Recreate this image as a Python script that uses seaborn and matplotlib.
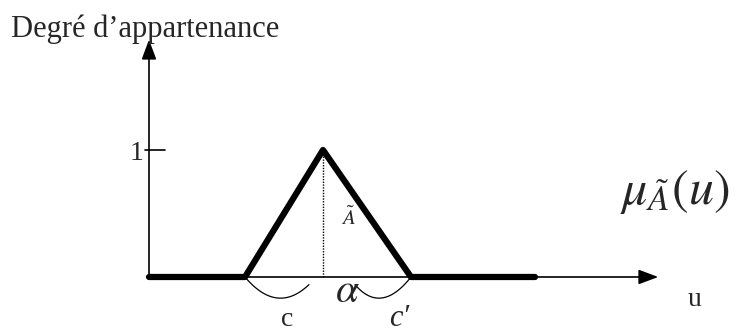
import numpy as np
import pandas as pd
import seaborn as sns
import matplotlib.pyplot as plt

# membership function (triangle) data
u_pts = [0, 2.4, 4.35, 6.55, 9.65]
mu_pts = [0, 0, 1, 0, 0]
peak_u = 4.35
u_axis_end = 12.8
mu_axis_end = 1.89

df = pd.DataFrame({"u": u_pts, "mu": mu_pts})

sns.set_style("white")
plt.rcParams['font.family'] = ['Liberation Serif', 'DejaVu Serif']
plt.rcParams['mathtext.fontset'] = 'stix'

fig = plt.figure(figsize=(7.36, 3.33), dpi=100)
ax = fig.add_axes([0, 0, 1, 1])
ax.set_xlim(-3.725, 14.675)
ax.set_ylim(-0.441, 2.181)
ax.axis("off")

# axes with arrows
ax.annotate("", xy=(u_axis_end, 0), xytext=(0, 0),
            arrowprops=dict(arrowstyle="-|>,head_length=1.2,head_width=0.45", color="black", lw=1.2))
ax.annotate("", xy=(0, mu_axis_end), xytext=(0, 0),
            arrowprops=dict(arrowstyle="-|>,head_length=1.2,head_width=0.45", color="black", lw=1.2))

# tick at 1
ax.plot([-0.1, 0.4], [1, 1], color="black", lw=1.2)
ax.text(-0.15, 0.976, "1", ha="right", va="center", fontsize=20)

# triangle membership
sns.lineplot(data=df, x="u", y="mu", color="black", lw=4.5, ax=ax, sort=False)

# dotted vertical at the peak
ax.plot([peak_u, peak_u], [0, 1], color="black", lw=1, ls=(0, (1, 1)))

# braces under the base
def brace(x0, x1, xm, depth, end):
    t = np.linspace(0, 1, 40)
    xs = (1 - t) ** 2 * x0 + 2 * (1 - t) * t * xm + t ** 2 * x1
    ys = -(2 * (1 - t) * t * depth + t ** 2 * end)
    ax.plot(xs, ys, color="black", lw=0.9)

brace(2.4, 4.0, 3.2, 0.3, 0.06)
brace(6.55, 5.15, 5.8, 0.3, 0.06)

ax.text(3.45, -0.335, "c", fontsize=20, ha="center", va="center")
ax.text(6.25, -0.325, "c\u2032", fontsize=22, style="italic", ha="center", va="center")
ax.text(4.95, -0.12, r"$\alpha$", fontsize=30, ha="center", va="center")
ax.text(4.98, 0.46, r"$\tilde{A}$", fontsize=15, ha="center", va="center")
ax.text(13.15, 0.67, r"$\mu_{\tilde{A}}(u)$", fontsize=36, ha="center", va="center")
ax.text(13.65, -0.18, "u", fontsize=20, ha="center", va="center")
ax.text(-3.45, 1.89, "Degré d\u2019appartenance", fontsize=22, ha="left", va="baseline")

fig.savefig("out.png", dpi=100)
